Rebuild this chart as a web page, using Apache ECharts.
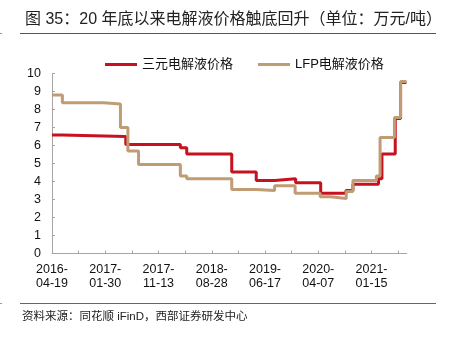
<!DOCTYPE html>
<html>
<head>
<meta charset="utf-8">
<script src="https://cdn.jsdelivr.net/npm/echarts@6/dist/echarts.min.js"></script>
<style>
  html, body { margin: 0; padding: 0; background: #fff; }
  #chart { width: 456px; height: 338px; }
</style>
</head>
<body>
<div id="chart"></div>
<script>
// Axis date labels (one every second tick)
const dateLabels = ['2016-04-19', '2017-01-30', '2017-11-13', '2018-08-28', '2019-06-17', '2020-04-07', '2021-01-15'];
// Trading-day periods per axis tick, and length of the period axis
const tickStep = 100;
const periodMax = 1332;

// 三元电解液价格 (万元/吨): period where each price level starts
const ncmPeriods = [0, 37, 277, 482, 506, 675, 767, 836, 915, 1009, 1104, 1130, 1226, 1239, 1289, 1309, 1331];
const ncmPrices  = [6.58, 6.5, 6.05, 5.88, 5.53, 4.53, 4.05, 4.15, 3.93, 3.35, 3.5, 3.85, 4.15, 5.53, 7.5, 9.5, 9.5];

// LFP电解液价格 (万元/吨)
const lfpPeriods = [0, 39, 194, 257, 285, 325, 482, 506, 675, 767, 836, 913, 1007, 1046, 1105, 1130, 1218, 1232, 1286, 1309, 1331];
const lfpPrices  = [8.8, 8.38, 8.3, 7.0, 5.7, 4.95, 4.3, 4.15, 3.55, 3.5, 3.77, 3.35, 3.15, 3.05, 3.45, 4.05, 4.3, 6.45, 7.55, 9.55, 9.55];

const seriesNames = ['三元电解液价格', 'LFP电解液价格'];
const titleText = '图 35：20 年底以来电解液价格触底回升（单位：万元/吨）';
const sourceText = '资料来源：同花顺 iFinD，西部证券研发中心';

const FONT = '"Liberation Sans", "Noto Sans CJK SC", sans-serif';
const pairs = (xs, ys) => xs.map((x, i) => [x, ys[i]]);

const tickValues = [];
for (let v = 0; v <= periodMax; v += tickStep) tickValues.push(v);
const labelValues = dateLabels.map((_, i) => i * 2 * tickStep);

const chart = echarts.init(document.getElementById('chart'), null, { renderer: 'canvas' });
chart.setOption({
  animation: false,
  backgroundColor: '#fff',
  title: {
    text: titleText,
    left: 20, top: 7,
    textStyle: { fontFamily: FONT, fontSize: 16, fontWeight: 'normal', color: '#222' }
  },
  legend: {
    data: seriesNames,
    left: 100, top: 53,
    icon: 'rect', itemWidth: 32, itemHeight: 3, itemGap: 25,
    textStyle: { fontFamily: FONT, fontSize: 13, color: '#111' }
  },
  grid: { left: 52, right: 49.3, top: 73.5, bottom: 84.5 },
  xAxis: {
    type: 'value', min: 0, max: periodMax, interval: tickStep,
    axisLine: { lineStyle: { color: '#a6a6a6', width: 1 } },
    axisTick: { inside: true, length: 3, customValues: tickValues, lineStyle: { color: '#a6a6a6' } },
    splitLine: { show: false },
    axisLabel: {
      customValues: labelValues,
      margin: 9, fontFamily: FONT, fontSize: 12.5, color: '#111', lineHeight: 14,
      formatter: v => {
        const d = dateLabels[Math.round(v / (2 * tickStep))];
        return d ? d.slice(0, 5) + '\n' + d.slice(5) : '';
      }
    }
  },
  yAxis: {
    type: 'value', min: 0, max: 10, interval: 1,
    axisLine: { show: true, lineStyle: { color: '#a6a6a6', width: 1 } },
    axisTick: { show: true, inside: true, length: 3, lineStyle: { color: '#a6a6a6' } },
    splitLine: { show: false },
    axisLabel: { margin: 11, fontFamily: FONT, fontSize: 12.5, color: '#111' }
  },
  series: [
    {
      name: seriesNames[0], type: 'line', step: 'end', showSymbol: false,
      data: pairs(ncmPeriods, ncmPrices),
      itemStyle: { color: '#C8111F' },
      lineStyle: { color: '#C8111F', width: 3 }
    },
    {
      name: seriesNames[1], type: 'line', step: 'end', showSymbol: false,
      data: pairs(lfpPeriods, lfpPrices),
      itemStyle: { color: '#C09C74' },
      lineStyle: { color: '#C09C74', width: 3 }
    }
  ],
  graphic: [
    { type: 'line', shape: { x1: 20, y1: 33.5, x2: 436, y2: 33.5 }, style: { stroke: '#555', lineWidth: 1.2 } },
    { type: 'line', shape: { x1: 0, y1: 33.5, x2: 2, y2: 33.5 }, style: { stroke: '#999', lineWidth: 1 } },
    { type: 'line', shape: { x1: 20, y1: 303.5, x2: 436, y2: 303.5 }, style: { stroke: '#666', lineWidth: 1.2 } },
    { type: 'line', shape: { x1: 0, y1: 303.5, x2: 2, y2: 303.5 }, style: { stroke: '#999', lineWidth: 1 } },
    {
      type: 'text', left: 22, top: 311,
      style: { text: sourceText, fontFamily: FONT, fontSize: 11.5, fill: '#222' }
    }
  ]
});
</script>
</body>
</html>
